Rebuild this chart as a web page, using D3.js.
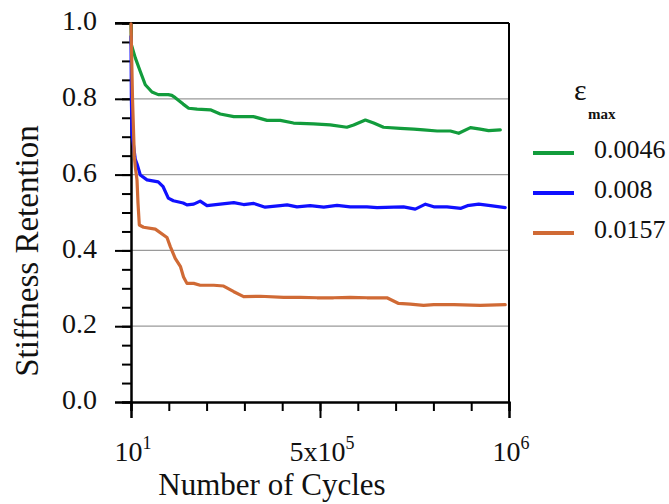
<!DOCTYPE html>
<html>
<head>
<meta charset="utf-8">
<script src="https://cdn.jsdelivr.net/npm/d3@7"></script>
<style>
  body { margin: 0; background: #fff; }
  svg { display: block; }
  svg text { font-family: "Liberation Serif", "Times New Roman", serif; }
</style>
</head>
<body>
<svg id="chart" width="669" height="504"></svg>
<script>
// strain levels (legend)
var strains = ['0.0046', '0.008', '0.0157'];
var colors = ['#129c3c', '#1010ff', '#d06a35'];

// cycles vs stiffness retention
var cyc0046 = [10, 1000, 11400, 24600, 37800, 55500, 72000, 98700, 108000, 117000, 138000, 152500, 175000, 210000, 236000, 272000, 324000, 360000, 395000, 430000, 483000, 527000, 571000, 589000, 620000, 642000, 668000, 712000, 748000, 774000, 810000, 845000, 867000, 898000, 924000, 946000, 977000];
var ret0046 = [0.995, 0.943, 0.908, 0.872, 0.837, 0.818, 0.811, 0.811, 0.809, 0.803, 0.786, 0.775, 0.773, 0.771, 0.760, 0.753, 0.753, 0.743, 0.743, 0.736, 0.734, 0.731, 0.725, 0.731, 0.744, 0.736, 0.725, 0.722, 0.720, 0.718, 0.715, 0.715, 0.709, 0.724, 0.720, 0.716, 0.718];

var cyc008 = [10, 1000, 2600, 7000, 11400, 16000, 24600, 42300, 72000, 85000, 98700, 112000, 138000, 148000, 166000, 183000, 201000, 236000, 272000, 298000, 325000, 355000, 395000, 413000, 439000, 474000, 510000, 545000, 580000, 624000, 651000, 695000, 721000, 752000, 779000, 801000, 836000, 873000, 890000, 920000, 951000, 990000];
var ret008 = [0.965, 0.80, 0.709, 0.674, 0.640, 0.628, 0.599, 0.586, 0.581, 0.568, 0.538, 0.531, 0.525, 0.520, 0.522, 0.530, 0.518, 0.522, 0.526, 0.521, 0.524, 0.514, 0.518, 0.520, 0.515, 0.518, 0.514, 0.519, 0.515, 0.515, 0.513, 0.514, 0.515, 0.509, 0.522, 0.515, 0.515, 0.511, 0.518, 0.522, 0.518, 0.513];

var cyc0157 = [10, 4000, 8800, 11400, 15900, 18500, 22000, 33300, 64300, 95200, 104000, 117000, 131000, 139000, 148000, 166000, 183000, 219000, 245000, 272000, 298000, 342000, 404000, 448000, 492000, 536000, 580000, 624000, 677000, 708000, 739000, 774000, 801000, 854000, 924000, 990000];
var ret0157 = [0.998, 0.80, 0.648, 0.620, 0.586, 0.525, 0.467, 0.461, 0.456, 0.434, 0.410, 0.379, 0.357, 0.330, 0.313, 0.313, 0.308, 0.308, 0.306, 0.291, 0.278, 0.279, 0.276, 0.276, 0.275, 0.275, 0.276, 0.275, 0.275, 0.260, 0.258, 0.255, 0.257, 0.257, 0.255, 0.257];

var yTicks = [0, 0.2, 0.4, 0.6, 0.8, 1.0];
var xTicks = [10, 500000, 1000000];
var xTickLabels = [['10', '1'], ['5x10', '5'], ['10', '6']];

var series = [
  {name: strains[0], x: cyc0046, y: ret0046},
  {name: strains[1], x: cyc008, y: ret008},
  {name: strains[2], x: cyc0157, y: ret0157}
];

var serif = '"Liberation Serif", "Times New Roman", serif';
var plotL = 131, plotR = 509, plotT = 23, plotB = 402;
var svg = d3.select('#chart');

var x = d3.scaleLinear().domain([10, 1000000]).range([plotL, plotR]);
var y = d3.scaleLinear().domain([0, 1]).range([plotB, plotT]);

// grid lines
svg.append('g').selectAll('line').data([0.2, 0.4, 0.6, 0.8]).enter().append('line')
  .attr('x1', plotL).attr('x2', plotR)
  .attr('y1', function(d) { return y(d); }).attr('y2', function(d) { return y(d); })
  .attr('stroke', '#9a9a9a').attr('stroke-width', 1.2);

// y axis: major + minor ticks
var yMinor = d3.axisLeft(y).tickValues(d3.range(0, 1.001, 0.05)).tickSize(9).tickFormat('');
svg.append('g').attr('transform', 'translate(' + plotL + ',0)').call(yMinor);
var yMajor = d3.axisLeft(y).tickValues(yTicks).tickSize(16).tickPadding(18)
  .tickFormat(d3.format('.1f'));
var gy = svg.append('g').attr('transform', 'translate(' + plotL + ',0)').call(yMajor)
  .attr('font-family', serif);
gy.selectAll('text').attr('font-size', 28).style('font-family', serif)
  .attr('fill', '#111').attr('dy', '0.24em');

// x axis
var xMinor = d3.axisBottom(x).tickValues(d3.range(0, 11).map(function(i) { return i === 0 ? 10 : i * 100000; }))
  .tickSize(9).tickFormat('');
svg.append('g').attr('transform', 'translate(0,' + plotB + ')').call(xMinor);
var xMajor = d3.axisBottom(x).tickValues(xTicks).tickSize(16).tickFormat('');
svg.append('g').attr('transform', 'translate(0,' + plotB + ')').call(xMajor);

svg.selectAll('.domain').attr('stroke', '#000').attr('stroke-width', 2);
svg.selectAll('.tick line').attr('stroke', '#000').attr('stroke-width', 2);

// frame top + right
svg.append('line').attr('x1', plotL - 16).attr('x2', plotR).attr('y1', plotT).attr('y2', plotT)
  .attr('stroke', '#000').attr('stroke-width', 2);
svg.append('line').attr('x1', plotR).attr('x2', plotR).attr('y1', plotT).attr('y2', plotB)
  .attr('stroke', '#000').attr('stroke-width', 2);

// x tick labels with superscripts
xTicks.forEach(function(t, i) {
  var txt = svg.append('text').attr('x', x(t) + 2).attr('y', 461)
    .attr('text-anchor', 'middle').attr('font-size', 28).attr('fill', '#111')
    .style('font-family', serif);
  txt.append('tspan').text(xTickLabels[i][0]);
  txt.append('tspan').attr('font-size', 18).attr('dy', -12).text(xTickLabels[i][1]);
});

// axis titles
svg.append('text').attr('x', 272).attr('y', 495).attr('text-anchor', 'middle')
  .attr('font-size', 31).attr('fill', '#111').style('font-family', serif)
  .text('Number of Cycles');
svg.append('text').attr('transform', 'translate(38,251) rotate(-90)')
  .attr('text-anchor', 'middle').attr('font-size', 33).attr('fill', '#111')
  .style('font-family', serif)
  .text('Stiffness Retention');

// curves
var line = d3.line()
  .x(function(d) { return x(d[0]); })
  .y(function(d) { return y(d[1]); });

series.forEach(function(s, i) {
  var pts = s.x.map(function(c, j) { return [c, s.y[j]]; });
  svg.append('path').datum(pts).attr('d', line)
    .attr('fill', 'none').attr('stroke', colors[i]).attr('stroke-width', 3.2)
    .attr('stroke-linejoin', 'round').attr('stroke-linecap', 'round');
});

// legend
var lg = svg.append('g').style('font-family', serif);
lg.append('text').attr('x', 574).attr('y', 100).attr('font-size', 30).attr('fill', '#111')
  .style('font-family', serif).text('ε');
lg.append('text').attr('x', 588).attr('y', 119).attr('font-size', 15).attr('font-weight', 'bold')
  .attr('fill', '#111').style('font-family', serif).text('max');
series.forEach(function(s, i) {
  var ly = 153 + i * 40;
  lg.append('line').attr('x1', 533).attr('x2', 574).attr('y1', ly).attr('y2', ly)
    .attr('stroke', colors[i]).attr('stroke-width', 4);
  lg.append('text').attr('x', 594).attr('y', ly + 5).attr('font-size', 26)
    .attr('fill', '#111').style('font-family', serif).text(s.name);
});
</script>
</body>
</html>
